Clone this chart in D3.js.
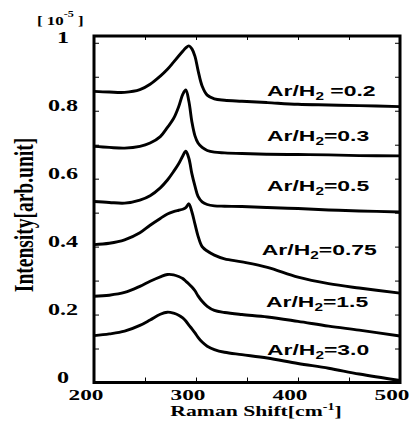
<!DOCTYPE html>
<html>
<head>
<meta charset="utf-8">
<script src="https://cdn.jsdelivr.net/npm/d3@7"></script>
<style>
    body { margin: 0; background: #fff; }
</style>
</head>
<body>
<svg id="chart"></svg>
<script>
// Raman shift grid [cm-1] shared by all spectra
const shifts = [200, 215, 230, 245, 255, 265, 272, 278, 283, 287, 290, 293, 296, 299, 302, 306, 311, 318, 328, 345, 370, 400, 430, 460, 500];

// intensity [10^-5 arb.unit] for each Ar/H2 ratio
const intensity_02  = [0.857, 0.855, 0.854, 0.862, 0.878, 0.902, 0.922, 0.943, 0.961, 0.975, 0.985, 0.991, 0.982, 0.960, 0.919, 0.873, 0.846, 0.835, 0.831, 0.828, 0.824, 0.819, 0.817, 0.815, 0.812];
const intensity_03  = [0.695, 0.692, 0.690, 0.695, 0.705, 0.724, 0.751, 0.777, 0.812, 0.848, 0.861, 0.828, 0.767, 0.726, 0.705, 0.692, 0.683, 0.678, 0.676, 0.674, 0.672, 0.671, 0.670, 0.668, 0.667];
const intensity_05  = [0.533, 0.530, 0.528, 0.537, 0.550, 0.573, 0.596, 0.621, 0.644, 0.667, 0.681, 0.660, 0.614, 0.578, 0.548, 0.532, 0.524, 0.520, 0.519, 0.518, 0.515, 0.512, 0.508, 0.505, 0.502];
const intensity_075 = [0.406, 0.410, 0.420, 0.441, 0.463, 0.483, 0.496, 0.503, 0.507, 0.510, 0.515, 0.526, 0.502, 0.466, 0.431, 0.400, 0.387, 0.375, 0.364, 0.355, 0.339, 0.310, 0.291, 0.278, 0.263];
const intensity_15  = [0.254, 0.257, 0.265, 0.283, 0.298, 0.311, 0.318, 0.317, 0.312, 0.306, 0.298, 0.290, 0.281, 0.270, 0.255, 0.239, 0.224, 0.212, 0.206, 0.200, 0.193, 0.180, 0.166, 0.154, 0.137];
const intensity_30  = [0.138, 0.143, 0.151, 0.168, 0.184, 0.201, 0.207, 0.204, 0.198, 0.190, 0.181, 0.169, 0.158, 0.146, 0.133, 0.119, 0.107, 0.097, 0.089, 0.082, 0.072, 0.056, 0.042, 0.025, 0.006];

const ratio_labels = [' =0.2', '=0.3', '=0.5', '=0.75', '=1.5', '=3.0'];

const y_tick_values = [0, 0.2, 0.4, 0.6, 0.8, 1];
const y_tick_labels = ['0', '0.2', '0.4', '0.6', '0.8', '1'];
const x_tick_values = [200, 300, 400, 500];
const x_tick_labels = ['200', '300', '400', '500'];

class RamanChart {
    constructor (config, series) {
        this.config = {
            parent: config.parent,
            width: config.width || 413,
            height: config.height || 421,
            box: config.box,
            stretch: config.stretch || 1.42
        };
        this.series = series;
        this.init();
    }

    init() {
        let self = this;
        const box = self.config.box;

        self.svg = d3.select(self.config.parent)
            .attr('width', self.config.width)
            .attr('height', self.config.height);

        self.x = d3.scaleLinear().domain([200, 500]).range([box.left, box.right]);
        self.y = d3.scaleLinear().domain([0, 1.02]).range([box.bottom, box.top]);

        self.line = d3.line()
            .x(d => self.x(d[0]))
            .y(d => self.y(d[1]))
            .curve(d3.curveCatmullRom.alpha(0.5));
    }

    render() {
        let self = this;
        const box = self.config.box;
        const s = self.config.stretch;

        // inner ticks on all four sides
        const minor_y = d3.range(1, 11).map(d => d / 10);
        const minor_x = [250, 300, 350, 400, 450];
        const tick_style = g => {
            g.select('.domain').remove();
            g.selectAll('line').attr('stroke', 'black').attr('stroke-width', 1);
            g.selectAll('text').remove();
        };
        self.svg.append('g').attr('transform', `translate(${box.left},0)`)
            .call(d3.axisLeft(self.y).tickValues(minor_y).tickSize(-5)).call(tick_style);
        self.svg.append('g').attr('transform', `translate(${box.right},0)`)
            .call(d3.axisRight(self.y).tickValues(minor_y).tickSize(-5)).call(tick_style);
        self.svg.append('g').attr('transform', `translate(0,${box.bottom})`)
            .call(d3.axisBottom(self.x).tickValues(minor_x).tickSize(-5)).call(tick_style);
        self.svg.append('g').attr('transform', `translate(0,${box.top})`)
            .call(d3.axisTop(self.x).tickValues(minor_x).tickSize(-4)).call(tick_style);

        // spectra
        self.svg.selectAll('.spectrum')
            .data(self.series)
            .enter()
            .append('path')
            .attr('class', 'spectrum')
            .attr('d', d => self.line(shifts.map((v, i) => [v, d.values[i]])))
            .attr('fill', 'none')
            .attr('stroke', 'black')
            .attr('stroke-width', 2.9)
            .attr('stroke-linejoin', 'round');

        // frame
        self.svg.append('rect')
            .attr('x', box.left)
            .attr('y', box.top)
            .attr('width', box.right - box.left)
            .attr('height', box.bottom - box.top)
            .attr('fill', 'none')
            .attr('stroke', 'black')
            .attr('stroke-width', 3);

        const serif = "'Liberation Serif', 'Times New Roman', serif";

        // y tick labels
        self.svg.selectAll('.ylabel')
            .data(y_tick_values)
            .enter()
            .append('text')
            .attr('class', 'ylabel')
            .attr('transform', d => `translate(63,${self.y(d) + 0.5}) scale(${s},1)`)
            .attr('text-anchor', 'middle')
            .style('font-family', serif)
            .style('font-weight', 'bold')
            .style('font-size', '17px')
            .text((d, i) => y_tick_labels[i]);

        // x tick labels
        self.svg.selectAll('.xlabel')
            .data(x_tick_values)
            .enter()
            .append('text')
            .attr('class', 'xlabel')
            .attr('transform', d => `translate(${self.x(d) - 8},400) scale(1.5,1)`)
            .attr('text-anchor', 'middle')
            .style('font-family', serif)
            .style('font-weight', 'bold')
            .style('font-size', '15.5px')
            .text((d, i) => x_tick_labels[i]);

        // unit note
        const note = self.svg.append('text')
            .attr('transform', `translate(37,25) scale(1.35,1)`)
            .style('font-family', serif)
            .style('font-weight', 'bold')
            .style('font-size', '12.5px');
        note.append('tspan').text('[ 10');
        note.append('tspan').attr('dy', -8).style('font-size', '9px').text('-5');
        note.append('tspan').attr('dy', 8).text('  ]');

        // axis titles
        const xt = self.svg.append('text')
            .attr('transform', `translate(256,416) scale(1.4,1)`)
            .attr('text-anchor', 'middle')
            .style('font-family', serif)
            .style('font-weight', 'bold')
            .style('font-size', '15.5px');
        xt.append('tspan').text('Raman Shift[cm');
        xt.append('tspan').attr('dy', -6).style('font-size', '10px').text('-1');
        xt.append('tspan').attr('dy', 6).text(']');

        self.svg.append('text')
            .attr('transform', `translate(33,215) scale(1.45,1) rotate(-90)`)
            .attr('text-anchor', 'middle')
            .style('font-family', serif)
            .style('font-weight', 'bold')
            .style('font-size', '19.5px')
            .text('Intensity[arb.unit]');

        // ratio labels
        const labels = self.svg.selectAll('.ratio')
            .data(self.series)
            .enter()
            .append('text')
            .attr('class', 'ratio')
            .attr('transform', d => `translate(${self.x(d.label_at[0])},${self.y(d.label_at[1])}) scale(1.53,1)`)
            .style('font-family', "'Liberation Sans', Arial, sans-serif")
            .style('font-weight', 'bold')
            .style('font-size', '15px');
        labels.append('tspan').text('Ar/H');
        labels.append('tspan').attr('dy', 4).style('font-size', '10px').text('2');
        labels.append('tspan').attr('dy', -4).text(d => d.label);
    }
}

const series = [
    { values: intensity_02,  label: ratio_labels[0], label_at: [369.6, 0.844] },
    { values: intensity_03,  label: ratio_labels[1], label_at: [369.6, 0.710] },
    { values: intensity_05,  label: ratio_labels[2], label_at: [369.6, 0.563] },
    { values: intensity_075, label: ratio_labels[3], label_at: [364.5, 0.376] },
    { values: intensity_15,  label: ratio_labels[4], label_at: [368.6, 0.223] },
    { values: intensity_30,  label: ratio_labels[5], label_at: [369.6, 0.082] }
];

const chart = new RamanChart({
    parent: '#chart',
    width: 413,
    height: 421,
    box: {left: 94, right: 400, top: 36, bottom: 382.5}
}, series);
chart.render();
</script>
</body>
</html>
